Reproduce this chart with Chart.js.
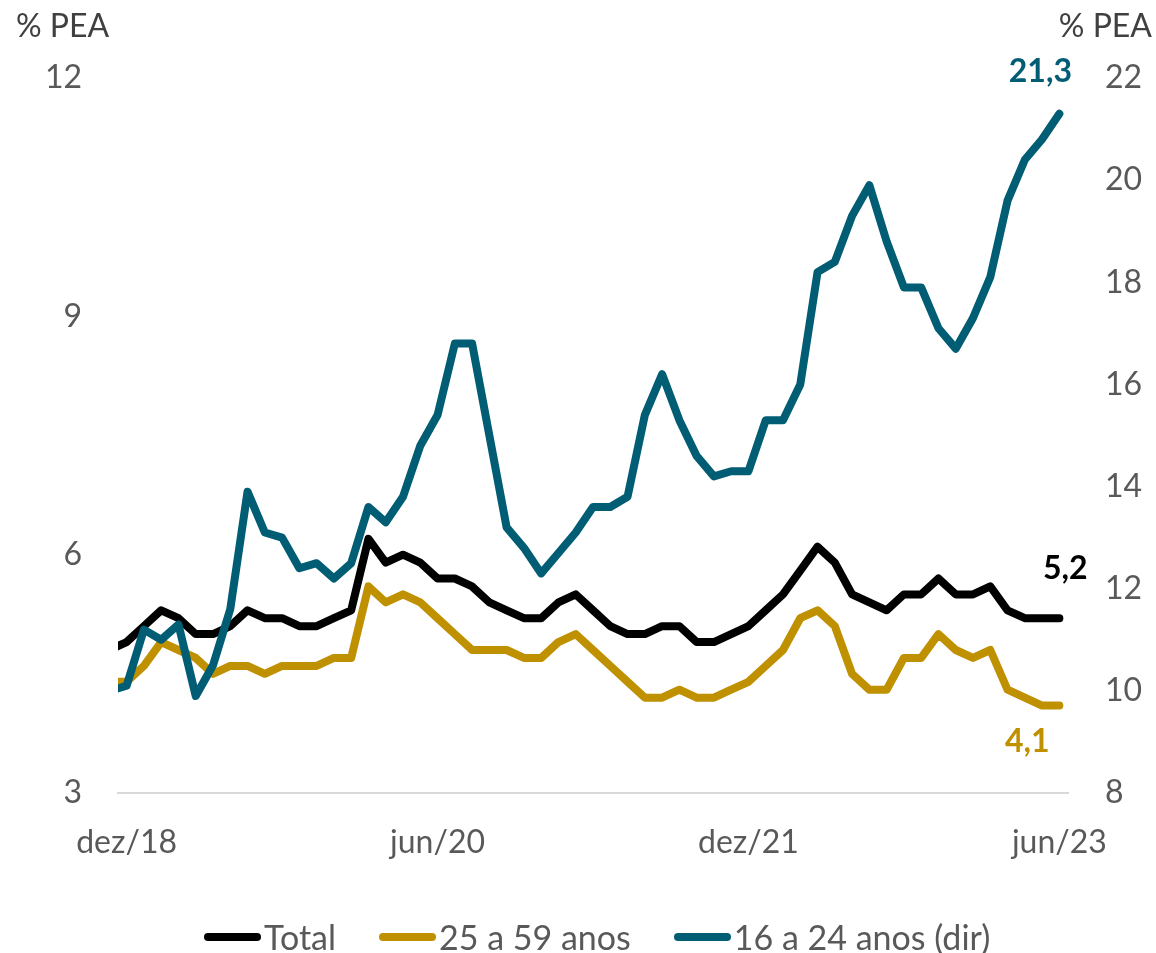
<!DOCTYPE html>
<html><head><meta charset="utf-8">
<script src="https://cdn.jsdelivr.net/npm/chart.js@4.4.0/dist/chart.umd.min.js"></script>
<style>
html,body{margin:0;padding:0;background:#fff;}
#wrap{position:relative;width:1156px;height:953px;}
#legend{position:absolute;left:204px;top:916px;display:flex;align-items:center;font-family:Lato,sans-serif;font-size:34px;color:#595959;line-height:42px;white-space:nowrap;}
.item{display:flex;align-items:center;margin-right:43px;}
.sw{display:inline-block;width:57px;height:8px;border-radius:4px;margin-right:3px;}
</style></head><body>
<div id="wrap"><canvas id="c" width="1156" height="953"></canvas><div id="legend"></div></div>
<script>
const categories = [
 'nov/18','dez/18',
 'jan/19','fev/19','mar/19','abr/19','mai/19','jun/19','jul/19','ago/19','set/19','out/19','nov/19','dez/19',
 'jan/20','fev/20','mar/20','abr/20','mai/20','jun/20','jul/20','ago/20','set/20','out/20','nov/20','dez/20',
 'jan/21','fev/21','mar/21','abr/21','mai/21','jun/21','jul/21','ago/21','set/21','out/21','nov/21','dez/21',
 'jan/22','fev/22','mar/22','abr/22','mai/22','jun/22','jul/22','ago/22','set/22','out/22','nov/22','dez/22',
 'jan/23','fev/23','mar/23','abr/23','mai/23','jun/23'
];
const tickLabels = ['dez/18','jun/20','dez/21','jun/23'];
const seriesNames = ['Total','25 a 59 anos','16 a 24 anos (dir)'];

const total = [4.8,
 4.9,5.1,5.3,5.2,5.0,5.0,5.1,5.3,5.2,5.2,
 5.1,5.1,5.2,5.3,6.2,5.9,6.0,5.9,5.7,5.7,
 5.6,5.4,5.3,5.2,5.2,5.4,5.5,5.3,5.1,5.0,
 5.0,5.1,5.1,4.9,4.9,5.0,5.1,5.3,5.5,5.8,
 6.1,5.9,5.5,5.4,5.3,5.5,5.5,5.7,5.5,5.5,
 5.6,5.3,5.2,5.2,5.2];
const age25to59 = [4.4,
 4.4,4.6,4.9,4.8,4.7,4.5,4.6,4.6,4.5,4.6,
 4.6,4.6,4.7,4.7,5.6,5.4,5.5,5.4,5.2,5.0,
 4.8,4.8,4.8,4.7,4.7,4.9,5.0,4.8,4.6,4.4,
 4.2,4.2,4.3,4.2,4.2,4.3,4.4,4.6,4.8,5.2,
 5.3,5.1,4.5,4.3,4.3,4.7,4.7,5.0,4.8,4.7,
 4.8,4.3,4.2,4.1,4.1];
const age16to24 = [10.0,
 10.1,11.2,11.0,11.3,9.9,10.5,11.6,13.9,13.1,13.0,
 12.4,12.5,12.2,12.5,13.6,13.3,13.8,14.8,15.4,16.8,
 16.8,15.0,13.2,12.8,12.3,12.7,13.1,13.6,13.6,13.8,
 15.4,16.2,15.3,14.6,14.2,14.3,14.3,15.3,15.3,16.0,
 18.2,18.4,19.3,19.9,18.8,17.9,17.9,17.1,16.7,17.3,
 18.1,19.6,20.4,20.8,21.3];

const colors = ['#000000','#BF9000','#005D73'];
const labelOffsets = [[6,-50],[-32,36],[-19,-42]];

Chart.defaults.font.family = 'Lato';

const toPts = arr => arr.map((v,i)=>({x:i,y:v}));
const fmt = v => v.toFixed(1).replace('.',',');

const annot = {
  id:'annot',
  afterDatasetsDraw(chart){
    const ctx = chart.ctx;
    ctx.save();
    ctx.font = '32px Lato';
    ctx.fillStyle = '#404040';
    ctx.textBaseline = 'middle';
    ctx.textAlign = 'left';
    ctx.fillText('% PEA', 16, 27);
    ctx.textAlign = 'right';
    ctx.fillText('% PEA', 1152, 27);
    ctx.font = 'bold 32px Lato';
    ctx.textAlign = 'center';
    chart.data.datasets.forEach((ds,k)=>{
      const meta = chart.getDatasetMeta(k);
      const pt = meta.data[meta.data.length-1];
      const val = ds.data[ds.data.length-1].y;
      ctx.fillStyle = ds.borderColor;
      ctx.fillText(fmt(val), pt.x + labelOffsets[k][0], pt.y + labelOffsets[k][1]);
    });
    ctx.restore();
  }
};

const mk = (name, data, color, axis, order) => ({
  label:name, data:toPts(data), borderColor:color, backgroundColor:color,
  borderWidth:8, pointRadius:0, tension:0, yAxisID:axis, order:order,
  borderJoinStyle:'round', borderCapStyle:'round', clip:0
});

new Chart(document.getElementById('c'), {
  type:'line',
  data:{datasets:[
    mk(seriesNames[0], total, colors[0], 'y', 1),
    mk(seriesNames[1], age25to59, colors[1], 'y', 2),
    mk(seriesNames[2], age16to24, colors[2], 'y2', 0)
  ]},
  options:{
    responsive:false, animation:false, devicePixelRatio:1,
    layout:{padding:{top:78,left:0,right:0,bottom:0}},
    plugins:{legend:{display:false}, tooltip:{enabled:false}},
    scales:{
      x:{type:'linear', min:0.5, max:categories.length-0.5,
        afterBuildTicks(s){ s.ticks = tickLabels.map(l=>({value:categories.indexOf(l)})); },
        ticks:{autoSkip:false, maxRotation:0, minRotation:0, padding:30, color:'#595959', font:{size:32},
          callback:(v)=>categories[v]},
        grid:{display:false, drawTicks:false},
        border:{display:true, color:'#D9D9D9', width:2},
        afterFit(s){ s.height = 160; }
      },
      y:{position:'left', min:3, max:12,
        ticks:{stepSize:3, padding:36, color:'#595959', font:{size:32}},
        grid:{display:false, drawTicks:false}, border:{display:false},
        afterFit(s){ s.width = 118; }
      },
      y2:{position:'right', min:8, max:22,
        ticks:{stepSize:2, padding:37, color:'#595959', font:{size:32}},
        grid:{display:false, drawTicks:false}, border:{display:false},
        afterFit(s){ s.width = 88; }
      }
    }
  },
  plugins:[annot]
});

const lg = document.getElementById('legend');
seriesNames.forEach((n,i)=>{
  const it = document.createElement('div'); it.className='item';
  const sw = document.createElement('span'); sw.className='sw'; sw.style.background = colors[i];
  const tx = document.createElement('span'); tx.textContent = n;
  it.appendChild(sw); it.appendChild(tx); lg.appendChild(it);
});
</script>
</body></html>
